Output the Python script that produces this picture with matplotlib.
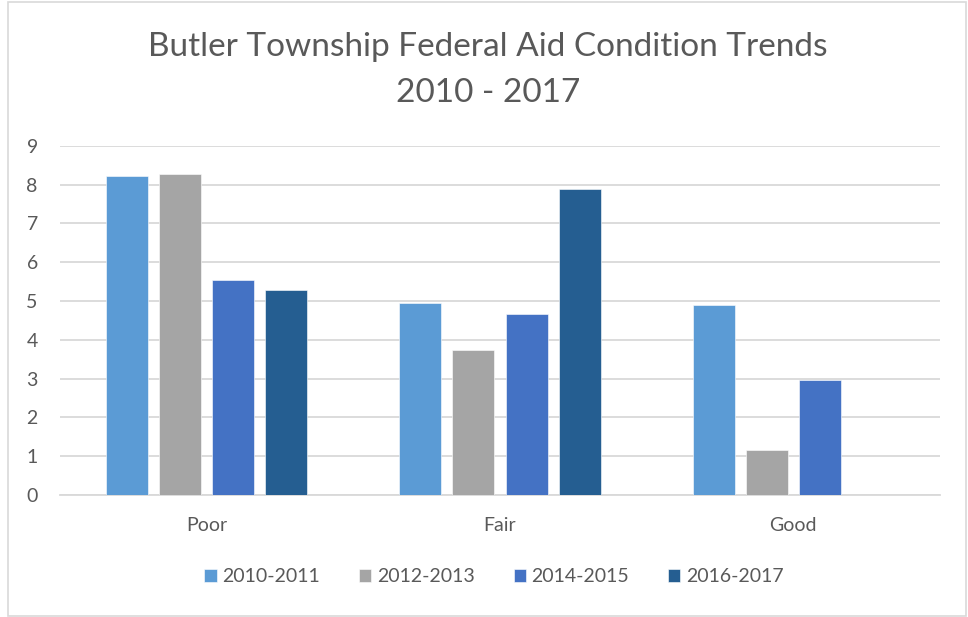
import numpy as np
import matplotlib.pyplot as plt
from matplotlib.patches import Rectangle

categories = ['Poor', 'Fair', 'Good']
series = ['2010-2011', '2012-2013', '2014-2015', '2016-2017']
v_2010_2011 = [8.23, 4.94, 4.90]
v_2012_2013 = [8.26, 3.74, 1.16]
v_2014_2015 = [5.54, 4.66, 2.97]
v_2016_2017 = [5.27, 7.88, 0.0]
valores = [v_2010_2011, v_2012_2013, v_2014_2015, v_2016_2017]
cores = ['#5B9BD5', '#A5A5A5', '#4472C4', '#255E91']

plt.rcParams['font.family'] = ['Lato', 'DejaVu Sans']

fig = plt.figure(figsize=(9.68, 6.17), dpi=100)
ax = fig.add_axes([60 / 968, 1 - 495 / 617, 880 / 968, (495 - 145.7) / 617])

# moldura do grafico
fig.patches.append(Rectangle((8 / 968, 1 / 617), 958 / 968, 614 / 617,
                             transform=fig.transFigure, fill=False,
                             edgecolor='#D9D9D9', linewidth=1.2))

x = np.arange(len(categories))
passo = 0.181
largura = 0.143
for i, (nome, vals) in enumerate(zip(series, valores)):
    ax.bar(x + (i - 1.5) * passo, vals, width=largura, color=cores[i],
           label=nome, edgecolor='white', linewidth=0.4, zorder=3)

ax.set_xlim(-0.5, 2.5)
ax.set_ylim(0, 9)
ax.set_yticks(range(0, 10))
ax.set_xticks(x)
ax.set_xticklabels(categories)
ax.yaxis.grid(True, color='#D9D9D9', linewidth=1.3, zorder=0)
for lado in ['top', 'right', 'left']:
    ax.spines[lado].set_visible(False)
ax.spines['bottom'].set_color('#D9D9D9')
ax.spines['bottom'].set_linewidth(1.3)
ax.tick_params(axis='both', length=0, labelsize=14, colors='#595959')
ax.tick_params(axis='y', pad=16)
ax.tick_params(axis='x', pad=16)

fig.text(488 / 968, 1 - 47 / 617, 'Butler Township Federal Aid Condition Trends',
         ha='center', va='center', fontsize=24, color='#595959')
fig.text(488 / 968, 1 - 93 / 617, '2010 - 2017',
         ha='center', va='center', fontsize=24, color='#595959')

leg = fig.legend(loc='center', bbox_to_anchor=(494 / 968, 1 - 577 / 617), ncol=4,
                 frameon=False, fontsize=14, handlelength=0.62, handleheight=0.62,
                 handletextpad=0.3, columnspacing=2.0)
for t in leg.get_texts():
    t.set_color('#595959')

plt.savefig('out.png', dpi=100)
